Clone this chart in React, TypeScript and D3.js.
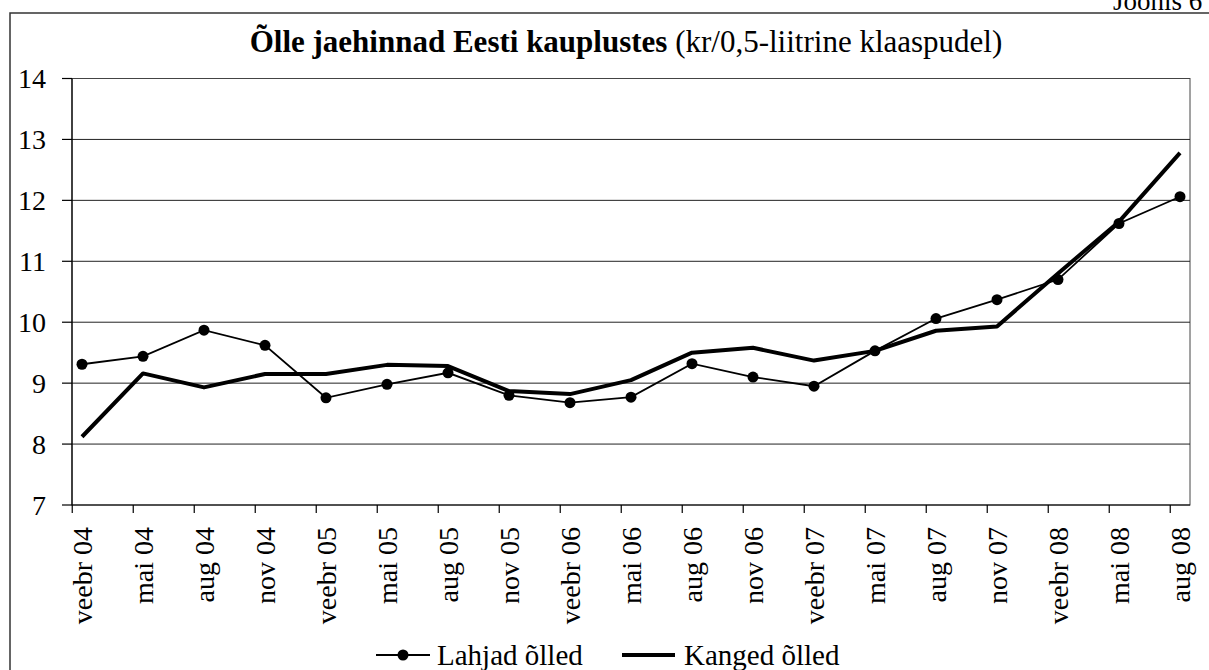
import React, { useEffect, useRef } from "react";
import { select, scaleLinear, line, range } from "d3";

// quarter labels on the x axis
const periods = [
  "veebr 04", "mai 04", "aug 04", "nov 04",
  "veebr 05", "mai 05", "aug 05", "nov 05",
  "veebr 06", "mai 06", "aug 06", "nov 06",
  "veebr 07", "mai 07", "aug 07", "nov 07",
  "veebr 08", "mai 08", "aug 08"
];

// light beers (line with dots)
const lahjad = [
  9.31, 9.44, 9.87, 9.62, 8.76, 8.98, 9.17, 8.80, 8.68, 8.77,
  9.32, 9.10, 8.95, 9.53, 10.06, 10.37, 10.70, 11.62, 12.06
];

// strong beers (thick line)
const kanged = [
  8.12, 9.16, 8.93, 9.15, 9.15, 9.30, 9.28, 8.87, 8.82, 9.05,
  9.50, 9.58, 9.37, 9.53, 9.86, 9.93, 10.80, 11.65, 12.78
];

const yTicks = [7, 8, 9, 10, 11, 12, 13, 14];

const FONT = "'Liberation Serif', 'Times New Roman', serif";

function BeerPriceChart() {
  const svgRef = useRef();

  useEffect(() => {
    const svg = select(svgRef.current);
    svg.selectAll("*").remove();

    const left = 72;
    const right = 1190;
    const top = 78.5;
    const bottom = 505;

    // points sit a little right of the tick marks (date axis)
    const x = scaleLinear().domain([0, periods.length - 1]).range([82, 1180]);
    const tickShift = -0.16;
    const y = scaleLinear().domain([7, 14]).range([bottom, top]);

    // outer frame
    svg.append("rect")
      .attr("x", 10).attr("y", 13)
      .attr("width", 1220).attr("height", 680)
      .attr("fill", "white")
      .attr("stroke", "#333").attr("stroke-width", 1.5);

    svg.append("text")
      .attr("x", 1113).attr("y", 10)
      .attr("font-family", FONT).attr("font-size", 27)
      .text("Joonis 6");

    // title
    const title = svg.append("text")
      .attr("x", 626).attr("y", 52)
      .attr("text-anchor", "middle")
      .attr("font-family", FONT).attr("font-size", 31);
    title.append("tspan").attr("font-weight", "bold").text("Õlle jaehinnad Eesti kauplustes ");
    title.append("tspan").text("(kr/0,5-liitrine klaaspudel)");

    // plot border
    svg.append("rect")
      .attr("x", left).attr("y", top)
      .attr("width", right - left).attr("height", bottom - top)
      .attr("fill", "none")
      .attr("stroke", "#444").attr("stroke-width", 1);

    // gridlines
    svg.append("g")
      .selectAll("line")
      .data(yTicks.filter(d => d > 7 && d < 14))
      .join("line")
      .attr("x1", left).attr("x2", right)
      .attr("y1", d => y(d)).attr("y2", d => y(d))
      .attr("stroke", "#222").attr("stroke-width", 1);

    // y axis
    svg.append("line")
      .attr("x1", left).attr("x2", left)
      .attr("y1", top).attr("y2", bottom)
      .attr("stroke", "black").attr("stroke-width", 1.2);
    svg.append("g")
      .selectAll("line")
      .data(yTicks)
      .join("line")
      .attr("x1", left - 10).attr("x2", left)
      .attr("y1", d => y(d)).attr("y2", d => y(d))
      .attr("stroke", "black").attr("stroke-width", 1.2);
    svg.append("g")
      .selectAll("text")
      .data(yTicks)
      .join("text")
      .attr("x", 46).attr("y", d => y(d))
      .attr("dy", "0.35em")
      .attr("text-anchor", "end")
      .attr("font-family", FONT).attr("font-size", 28)
      .text(d => d);

    // x axis
    svg.append("line")
      .attr("x1", left).attr("x2", right)
      .attr("y1", bottom).attr("y2", bottom)
      .attr("stroke", "black").attr("stroke-width", 1.2);
    svg.append("g")
      .selectAll("line")
      .data(range(periods.length))
      .join("line")
      .attr("x1", i => x(i + tickShift)).attr("x2", i => x(i + tickShift))
      .attr("y1", bottom).attr("y2", bottom + 8)
      .attr("stroke", "black").attr("stroke-width", 1.2);
    svg.append("g")
      .selectAll("text")
      .data(periods)
      .join("text")
      .attr("transform", (d, i) => `translate(${x(i)},${bottom + 22}) rotate(-90)`)
      .attr("dy", "0.35em")
      .attr("text-anchor", "end")
      .attr("font-family", FONT).attr("font-size", 28)
      .text(d => d);

    const lineGen = line()
      .x((d, i) => x(i))
      .y(d => y(d));

    svg.append("path")
      .datum(lahjad)
      .attr("d", lineGen)
      .attr("fill", "none")
      .attr("stroke", "black").attr("stroke-width", 1.8);

    svg.append("g")
      .selectAll("circle")
      .data(lahjad)
      .join("circle")
      .attr("cx", (d, i) => x(i))
      .attr("cy", d => y(d))
      .attr("r", 5.5)
      .attr("fill", "black");

    svg.append("path")
      .datum(kanged)
      .attr("d", lineGen)
      .attr("fill", "none")
      .attr("stroke", "black").attr("stroke-width", 4)
      .attr("stroke-linejoin", "round");

    // legend
    const legendY = 655;
    const lg = svg.append("g");
    lg.append("line")
      .attr("x1", 376).attr("x2", 430)
      .attr("y1", legendY).attr("y2", legendY)
      .attr("stroke", "black").attr("stroke-width", 1.8);
    lg.append("circle")
      .attr("cx", 403).attr("cy", legendY).attr("r", 5.5)
      .attr("fill", "black");
    lg.append("text")
      .attr("x", 437).attr("y", legendY).attr("dy", "0.33em")
      .attr("font-family", FONT).attr("font-size", 29)
      .text("Lahjad õlled");
    lg.append("line")
      .attr("x1", 622).attr("x2", 675)
      .attr("y1", legendY).attr("y2", legendY)
      .attr("stroke", "black").attr("stroke-width", 4);
    lg.append("text")
      .attr("x", 684).attr("y", legendY).attr("dy", "0.33em")
      .attr("font-family", FONT).attr("font-size", 29)
      .text("Kanged õlled");
  }, []);

  return (
    <svg
      ref={svgRef}
      width={1209}
      height={670}
      style={{ position: "absolute", left: 0, top: 0, background: "white" }}
    />
  );
}

export default function App() {
  return <BeerPriceChart />;
}
